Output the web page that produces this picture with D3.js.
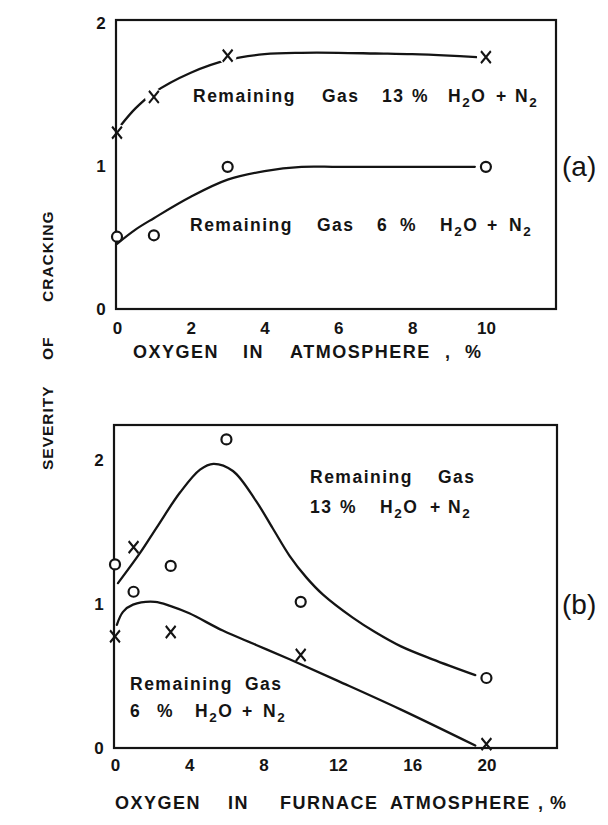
<!DOCTYPE html>
<html>
<head>
<meta charset="utf-8">
<script src="https://cdn.jsdelivr.net/npm/d3@7"></script>
<style>
  body { margin: 0; background: #fff; }
  text { font-family: "Liberation Sans", Arial, sans-serif; fill: #141414; }
</style>
</head>
<body>
<svg id="chart" width="608" height="825"></svg>
<script>
// ---- data ----
// panel (a): oxygen in atmosphere, %
var xTicksA = [0, 2, 4, 6, 8, 10];
var oxyA = [0, 1, 3, 10];
var crossA = [1.23, 1.48, 1.77, 1.76];   // 13 % H2O + N2 (x marks)
var circA = [0.50, 0.51, 0.99, 0.99];    // 6 % H2O + N2 (open circles)
var curveA13x = [0.1, 0.5, 1, 2, 3, 4, 5, 6, 7, 8, 9, 9.75];
var curveA13y = [1.28, 1.40, 1.51, 1.65, 1.74, 1.78, 1.79, 1.79, 1.785, 1.78, 1.77, 1.76];
var curveA6x = [0, 0.5, 1, 2, 3, 4, 5, 6, 8, 9.7];
var curveA6y = [0.45, 0.55, 0.63, 0.78, 0.90, 0.96, 0.99, 0.99, 0.99, 0.99];

// panel (b): oxygen in furnace atmosphere, %
var xTicksB = [0, 4, 8, 12, 16, 20];
var oxyBcirc = [0, 1, 3, 6, 10, 20];
var circB = [1.27, 1.08, 1.26, 2.14, 1.01, 0.48];
var oxyBcross = [0, 1, 3, 10, 20];
var crossB = [0.77, 1.39, 0.80, 0.64, 0.02];
var curveB13x = [0.16, 1.35, 2.26, 3.5, 4.58, 5.3, 6.35, 7.6, 8.5, 9.4, 10.3, 11.2, 12.8, 14, 15.4, 17.1, 19.4];
var curveB13y = [1.14, 1.35, 1.53, 1.77, 1.93, 1.97, 1.92, 1.71, 1.52, 1.33, 1.18, 1.06, 0.90, 0.80, 0.70, 0.61, 0.50];
var curveB6x = [0.1, 0.43, 0.97, 2.15, 3, 4, 5.8, 7.6, 9.4, 12, 15.4, 19.4];
var curveB6y = [0.85, 0.94, 0.99, 1.01, 0.98, 0.93, 0.81, 0.71, 0.61, 0.46, 0.26, 0.01];

var yTicks = [0, 1, 2];

var svg = d3.select('#chart');

var xA = d3.scaleLinear().domain([0, 11.9]).range([117, 556]);
var yA = d3.scaleLinear().domain([0, 2.02]).range([308, 20]);
var xB = d3.scaleLinear().domain([0, 23.8]).range([115, 557]);
var yB = d3.scaleLinear().domain([0, 2.24]).range([747, 425]);

function zip(xs, ys) {
  return xs.map(function(d, i) { return [d, ys[i]]; });
}

function drawCurve(g, x, y, xs, ys) {
  var line = d3.line()
    .x(function(d) { return x(d[0]); })
    .y(function(d) { return y(d[1]); })
    .curve(d3.curveCatmullRom.alpha(0.5));
  g.append('path')
    .attr('d', line(zip(xs, ys)))
    .attr('fill', 'none')
    .attr('stroke', '#141414')
    .attr('stroke-width', 2.3)
    .attr('stroke-linecap', 'round');
}

function drawFrame(g, x, y) {
  var x0 = x.range()[0] - 1, x1 = x.range()[1];
  var y0 = y.range()[1], y1 = y.range()[0] + 1;
  g.append('rect')
    .attr('x', x0).attr('y', y0)
    .attr('width', x1 - x0).attr('height', y1 - y0)
    .attr('fill', 'none')
    .attr('stroke', '#141414')
    .attr('stroke-width', 2.2);
}

function drawAxes(g, x, y, ticks, tickY) {
  var ax = g.append('g')
    .attr('transform', 'translate(0,' + tickY + ')')
    .call(d3.axisBottom(x).tickValues(ticks).tickSize(0).tickPadding(0));
  ax.select('.domain').remove();
  ax.selectAll('text')
    .attr('dy', 0)
    .style('font-size', '17px')
    .style('font-weight', 'bold')
    .style('font-family', '"Liberation Sans", Arial, sans-serif')
    .attr('fill', '#141414');

  var ay = g.append('g')
    .attr('transform', 'translate(' + (x.range()[0] - 16) + ',0)')
    .call(d3.axisLeft(y).tickValues(yTicks).tickSize(0).tickPadding(0).tickFormat(d3.format('d')));
  ay.select('.domain').remove();
  ay.selectAll('text')
    .attr('text-anchor', 'middle')
    .attr('dy', '0.36em')
    .attr('x', 0)
    .style('font-size', '17px')
    .style('font-weight', 'bold')
    .style('font-family', '"Liberation Sans", Arial, sans-serif')
    .attr('fill', '#141414');
}

// white backing so the hand-drawn curve breaks round the marks
function halos(g, x, y, xs, ys) {
  g.selectAll(null).data(zip(xs, ys)).enter().append('circle')
    .attr('cx', function(d) { return x(d[0]); })
    .attr('cy', function(d) { return y(d[1]); })
    .attr('r', 9)
    .attr('fill', '#fff');
}

function crossMarks(g, x, y, xs, ys) {
  g.selectAll(null).data(zip(xs, ys)).enter().append('path')
    .attr('transform', function(d) { return 'translate(' + x(d[0]) + ',' + y(d[1]) + ') scale(0.9,1.1)'; })
    .attr('d', d3.symbol(d3.symbolX, 80)())
    .attr('fill', 'none')
    .attr('stroke', '#141414')
    .attr('stroke-width', 2.2);
}

function circleMarks(g, x, y, xs, ys) {
  g.selectAll(null).data(zip(xs, ys)).enter().append('circle')
    .attr('cx', function(d) { return x(d[0]); })
    .attr('cy', function(d) { return y(d[1]); })
    .attr('r', 5)
    .attr('fill', '#fff')
    .attr('stroke', '#141414')
    .attr('stroke-width', 2.2);
}

// text chunks; "_2" makes a subscript 2
function note(g, baseY, chunks, size, spacing) {
  chunks.forEach(function(c) {
    var t = g.append('text')
      .attr('x', c[0]).attr('y', baseY)
      .style('font-size', size + 'px')
      .style('font-weight', 'bold')
      .style('letter-spacing', spacing + 'px');
    var parts = c[1].split('_');
    t.append('tspan').text(parts[0]);
    parts.slice(1).forEach(function(p) {
      t.append('tspan').attr('dy', 5).style('font-size', (size - 4) + 'px').text(p[0]);
      if (p.length > 1) t.append('tspan').attr('dy', -5).text(p.slice(1));
    });
  });
}

// ---- panel (a) ----
var gA = svg.append('g');
drawCurve(gA, xA, yA, curveA13x, curveA13y);
drawCurve(gA, xA, yA, curveA6x, curveA6y);
halos(gA, xA, yA, oxyA, crossA);
drawFrame(gA, xA, yA);
crossMarks(gA, xA, yA, oxyA, crossA);
circleMarks(gA, xA, yA, oxyA, circA);
drawAxes(gA, xA, yA, xTicksA, 334);

note(gA, 102, [[193, 'Remaining'], [322, 'Gas'], [382, '13'], [412, '%'], [448, 'H_2O'], [496, '+'], [515, 'N_2']], 17.5, 1.5);
note(gA, 231, [[190, 'Remaining'], [317, 'Gas'], [377, '6'], [400, '%'], [440, 'H_2O'], [487, '+'], [509, 'N_2']], 17.5, 1.5);
gA.append('text').attr('x', 562).attr('y', 176)
  .style('font-size', '28px').text('(a)');
note(gA, 358, [[133, 'OXYGEN'], [243, 'IN'], [290, 'ATMOSPHERE'], [445, ','], [465, '%']], 18, 1.5);

// ---- panel (b) ----
var gB = svg.append('g');
drawCurve(gB, xB, yB, curveB13x, curveB13y);
drawCurve(gB, xB, yB, curveB6x, curveB6y);
drawFrame(gB, xB, yB);
crossMarks(gB, xB, yB, oxyBcross, crossB);
circleMarks(gB, xB, yB, oxyBcirc, circB);
drawAxes(gB, xB, yB, xTicksB, 771);

note(gB, 483, [[310, 'Remaining'], [438, 'Gas']], 17.5, 1.5);
note(gB, 513, [[310, '13'], [340, '%'], [380, 'H_2O'], [430, '+'], [448, 'N_2']], 17.5, 1.5);
note(gB, 690, [[130, 'Remaining'], [245, 'Gas']], 17.5, 1.5);
note(gB, 717, [[130, '6'], [157, '%'], [195, 'H_2O'], [242, '+'], [263, 'N_2']], 17.5, 1.5);
gB.append('text').attr('x', 562).attr('y', 614)
  .style('font-size', '28px').text('(b)');
note(gB, 809, [[115, 'OXYGEN'], [228, 'IN'], [280, 'FURNACE'], [390, 'ATMOSPHERE'], [538, ','], [550, '%']], 18, 1.5);

// shared y title
var gY = svg.append('g').attr('transform', 'translate(53,0) rotate(-90)');
note(gY, 0, [[-470, 'SEVERITY'], [-360, 'OF'], [-302, 'CRACKING']], 15.5, 1);
</script>
</body>
</html>
